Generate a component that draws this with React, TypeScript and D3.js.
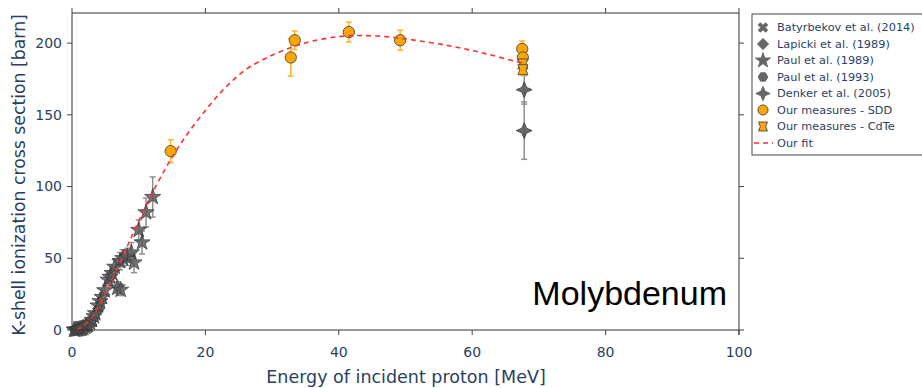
import React from "react";
import * as d3 from "d3";

// ---------- data ----------
const paul1989E = [0.3, 0.5, 0.7, 0.9, 1.1, 1.3, 1.5, 1.7, 2.0, 2.2, 2.4, 2.7, 3.0, 3.3, 3.5, 3.9, 4.2, 4.5, 4.9, 5.4, 5.7, 6.0, 6.4, 6.8, 7.3, 7.2, 7.6, 8.3, 8.9, 9.3, 10.0, 10.5, 11.1, 12.1];
const paul1989S = [0.1, 0.2, 0.3, 0.5, 0.6, 0.8, 1.0, 1.4, 2.2, 3.0, 3.5, 5.0, 7.0, 9.5, 11.6, 17, 20, 23, 27.6, 35, 37, 39.7, 44, 29.5, 28, 48, 50, 51, 54, 47, 69.7, 61, 82, 92.7];
const paul1989Err = [0.1, 0.1, 0.1, 0.1, 0.1, 0.1, 0.2, 0.2, 0.3, 0.4, 0.5, 0.7, 1, 1.2, 1.5, 2, 2.5, 3, 3.5, 4, 4, 4, 5, 4, 4, 6, 6, 6, 7, 7, 7, 8, 10, 14];

const lapickiE = [1.0, 2.0, 3.0, 4.0];
const lapickiS = [0.5, 2.5, 7, 15];

const paul1993E = [0.5, 1.5, 2.5];
const paul1993S = [0.1, 1.2, 4];

const batyrbekovE = [2.0, 3.0];
const batyrbekovS = [2, 5.5];

const denkerE = [67.8, 67.8];
const denkerS = [167.5, 139];
const denkerErr = [10, 20];

const sddE = [14.8, 32.8, 33.4, 41.5, 49.2, 67.5, 67.6];
const sddS = [124.7, 190, 202, 207.7, 202, 196, 190];
const sddErr = [8, 13, 6.5, 7, 7, 5.5, 5];

const cdteE = [67.6, 67.6];
const cdteS = [185.5, 181.5];
const cdteErr = [4, 4];

const fitE = [0.75, 2.7, 4.7, 7.2, 9.7, 12.2, 14.7, 17.2, 20.7, 23.2, 26.2, 29.7, 33.2, 36.1, 40, 43.2, 47, 50.7, 56.7, 61.7, 66.7, 68];
const fitS = [0, 7, 23, 47, 73, 97, 118, 136, 157, 170, 182, 191, 197.5, 201.5, 204.5, 205.3, 204.5, 202.5, 198, 193, 187, 185.5];

const xTicks = [0, 20, 40, 60, 80, 100];
const yTicks = [0, 50, 100, 150, 200];

const legendLabels = [
  "Batyrbekov et al. (2014)",
  "Lapicki et al. (1989)",
  "Paul et al. (1989)",
  "Paul et al. (1993)",
  "Denker et al. (2005)",
  "Our measures - SDD",
  "Our measures - CdTe",
  "Our fit",
];

// ---------- custom symbols ----------
const symbolHexagon = {
  draw(ctx: any, size: number) {
    const r = Math.sqrt(size / (1.5 * Math.sqrt(3)));
    for (let i = 0; i < 6; i++) {
      const a = (Math.PI / 3) * i;
      const px = r * Math.cos(a), py = r * Math.sin(a);
      if (i === 0) ctx.moveTo(px, py); else ctx.lineTo(px, py);
    }
    ctx.closePath();
  },
};
const symbolXFill = {
  draw(ctx: any, size: number) {
    const r = Math.sqrt(size) / 2;
    const w = r * 0.45;
    const pts: [number, number][] = [
      [0, -w], [r - w, -r], [r, -r + w], [w, 0], [r, r - w], [r - w, r],
      [0, w], [-r + w, r], [-r, r - w], [-w, 0], [-r, -r + w], [-r + w, -r],
    ];
    pts.forEach((p, i) => (i === 0 ? ctx.moveTo(p[0], p[1]) : ctx.lineTo(p[0], p[1])));
    ctx.closePath();
  },
};
const symbolStarDiamond = {
  draw(ctx: any, size: number) {
    const r = Math.sqrt(size) * 0.75;
    const c = r * 0.3;
    ctx.moveTo(0, -r);
    ctx.lineTo(c, -c);
    ctx.lineTo(r, 0);
    ctx.lineTo(c, c);
    ctx.lineTo(0, r);
    ctx.lineTo(-c, c);
    ctx.lineTo(-r, 0);
    ctx.lineTo(-c, -c);
    ctx.closePath();
  },
};
const symbolBowtieSquare = {
  draw(ctx: any, size: number) {
    const s = Math.sqrt(size) / 2;
    ctx.moveTo(-s, -s);
    ctx.lineTo(s, -s);
    ctx.lineTo(s * 0.6, 0);
    ctx.lineTo(s, s);
    ctx.lineTo(-s, s);
    ctx.lineTo(-s * 0.6, 0);
    ctx.closePath();
  },
};
const symbolWideDiamond = {
  draw(ctx: any, size: number) {
    const r = Math.sqrt(size) * 0.72;
    ctx.moveTo(0, -r);
    ctx.lineTo(r, 0);
    ctx.lineTo(0, r);
    ctx.lineTo(-r, 0);
    ctx.closePath();
  },
};

// ---------- layout ----------
const W = 922, H = 388;
const x = d3.scaleLinear().domain([0, 100]).range([72, 739]);
const y = d3.scaleLinear().domain([0, 221]).range([330, 13]);

const FONT = "'DejaVu Sans', Verdana, sans-serif";
const TXT = "#2a3f5f";
const GRAY_FILL = "#5c5c5c";
const GRAY_STROKE = "#3a3a3a";
const GRAY_ERR = "#8f8f8f";
const ORANGE = "#ffa500";
const ORANGE_ERR = "#ffb330";
const DARK = "#555";

function sym(type: any, size: number) {
  return d3.symbol().type(type).size(size)() as string;
}

function ErrBars({ E, S, err, color }: { E: number[]; S: number[]; err: number[]; color: string }) {
  return (
    <g stroke={color} strokeWidth={1.5} fill="none">
      {E.map((e, i) => {
        const cx = x(e);
        const y1 = y(S[i] + err[i]);
        const y2 = y(S[i] - err[i]);
        return (
          <g key={i}>
            <line x1={cx} x2={cx} y1={y1} y2={y2} />
            <line x1={cx - 3} x2={cx + 3} y1={y1} y2={y1} />
            <line x1={cx - 3} x2={cx + 3} y1={y2} y2={y2} />
          </g>
        );
      })}
    </g>
  );
}

function Markers({ E, S, d, fill, stroke, opacity = 1 }: { E: number[]; S: number[]; d: string; fill: string; stroke: string; opacity?: number }) {
  return (
    <g>
      {E.map((e, i) => (
        <path key={i} d={d} transform={`translate(${x(e)},${y(S[i])})`} fill={fill} stroke={stroke} strokeWidth={1} opacity={opacity} />
      ))}
    </g>
  );
}

export default function App() {
  const fitLine = d3
    .line<number>()
    .x((_, i) => x(fitE[i]))
    .y((s) => y(s))
    .curve(d3.curveCatmullRom.alpha(0.5))(fitS) as string;

  const starD = sym(d3.symbolStar, 80);
  const hexD = sym(symbolHexagon, 70);
  const xD = sym(symbolXFill, 100);
  const diaD = sym(symbolWideDiamond, 70);
  const sdiaD = sym(symbolStarDiamond, 110);
  const circD = sym(d3.symbolCircle, 100);
  const sqD = sym(symbolBowtieSquare, 100);

  const LG = "#666";
  const legendSyms = [
    { d: sym(symbolXFill, 90), fill: LG, stroke: LG },
    { d: sym(symbolWideDiamond, 60), fill: LG, stroke: LG },
    { d: sym(d3.symbolStar, 70), fill: LG, stroke: LG },
    { d: sym(symbolHexagon, 60), fill: LG, stroke: LG },
    { d: sym(symbolStarDiamond, 90), fill: LG, stroke: LG },
    { d: sym(d3.symbolCircle, 80), fill: ORANGE, stroke: DARK },
    { d: sym(symbolBowtieSquare, 80), fill: ORANGE, stroke: DARK },
  ];

  const legendX = 752, legendY = 14;
  const rowY = (i: number) => legendY + 13.5 + i * 16.5;

  return (
    <svg width={W} height={H} style={{ position: "absolute", left: 0, top: 0, background: "#fff" }} fontFamily={FONT}>
      <rect x={0} y={0} width={W} height={H} fill="#fff" />

      {/* data: error bars */}
      <ErrBars E={paul1989E} S={paul1989S} err={paul1989Err} color={GRAY_ERR} />
      <ErrBars E={denkerE} S={denkerS} err={denkerErr} color={GRAY_ERR} />

      {/* gray markers */}
      <Markers E={paul1993E} S={paul1993S} d={hexD} fill={GRAY_FILL} stroke={GRAY_STROKE} opacity={0.85} />
      <Markers E={lapickiE} S={lapickiS} d={diaD} fill={GRAY_FILL} stroke={GRAY_STROKE} opacity={0.85} />
      <Markers E={batyrbekovE} S={batyrbekovS} d={xD} fill={GRAY_FILL} stroke={GRAY_STROKE} opacity={0.85} />
      <Markers E={paul1989E} S={paul1989S} d={starD} fill={GRAY_FILL} stroke={GRAY_STROKE} opacity={0.85} />
      <Markers E={denkerE} S={denkerS} d={sdiaD} fill={GRAY_FILL} stroke={GRAY_STROKE} opacity={0.9} />

      {/* orange error bars + markers */}
      <ErrBars E={sddE} S={sddS} err={sddErr} color={ORANGE_ERR} />
      <ErrBars E={cdteE} S={cdteS} err={cdteErr} color={ORANGE_ERR} />
      <Markers E={sddE} S={sddS} d={circD} fill={ORANGE} stroke={DARK} />
      <Markers E={cdteE} S={cdteS} d={sqD} fill={ORANGE} stroke={DARK} />

      {/* fit */}
      <path d={fitLine} fill="none" stroke="#ff3030" strokeWidth={1.6} strokeDasharray="5,4" />

      {/* axes frame */}
      <g stroke="#333" strokeWidth={1} fill="none">
        <line x1={x(0)} x2={x(100)} y1={y(0)} y2={y(0)} />
        <line x1={x(0)} x2={x(100)} y1={y(221)} y2={y(221)} />
        <line x1={x(0)} x2={x(0)} y1={y(221)} y2={y(0) + 5} />
        <line x1={x(100)} x2={x(100)} y1={y(221)} y2={y(0) + 5} />
      </g>

      {/* x ticks */}
      <g>
        {xTicks.map((t) => (
          <g key={t}>
            <line x1={x(t)} x2={x(t)} y1={y(0)} y2={y(0) + 5} stroke="#444" />
            <line x1={x(t)} x2={x(t)} y1={y(221)} y2={y(221) - 5} stroke="#444" />
            <text x={x(t)} y={357} textAnchor="middle" fontSize={14} fill={TXT}>
              {t}
            </text>
          </g>
        ))}
      </g>

      {/* y ticks */}
      <g>
        {yTicks.map((t) => (
          <g key={t}>
            <line x1={x(0) - 5} x2={x(0)} y1={y(t)} y2={y(t)} stroke="#444" />
            <line x1={x(100)} x2={x(100) + 5} y1={y(t)} y2={y(t)} stroke="#444" />
            <text x={62} y={y(t)} dy="0.35em" textAnchor="end" fontSize={14} fill={TXT}>
              {t}
            </text>
          </g>
        ))}
      </g>

      {/* axis titles */}
      <text x={406} y={383} textAnchor="middle" fontSize={17.5} fill={TXT}>
        Energy of incident proton [MeV]
      </text>
      <text transform={`translate(25,175) rotate(-90)`} textAnchor="middle" fontSize={17.3} fill={TXT}>
        K-shell ionization cross section [barn]
      </text>

      {/* annotation */}
      <text x={727} y={305} textAnchor="end" fontSize={34} fill="#000" fontFamily="'Liberation Sans', Arial, sans-serif">
        Molybdenum
      </text>

      {/* legend */}
      <g>
        <rect x={legendX} y={legendY} width={200} height={141} fill="#fff" stroke="#444" strokeWidth={1} />
        {legendLabels.map((lab, i) => (
          <g key={lab}>
            {i < 7 ? (
              <path d={legendSyms[i].d} transform={`translate(763,${rowY(i)})`} fill={legendSyms[i].fill} stroke={legendSyms[i].stroke} strokeWidth={1} />
            ) : (
              <line x1={754} x2={773} y1={rowY(i)} y2={rowY(i)} stroke="#ff3030" strokeWidth={1.6} strokeDasharray="5,4" />
            )}
            <text x={777} y={rowY(i)} dy="0.35em" fontSize={11.3} fill={TXT}>
              {lab}
            </text>
          </g>
        ))}
      </g>
    </svg>
  );
}
